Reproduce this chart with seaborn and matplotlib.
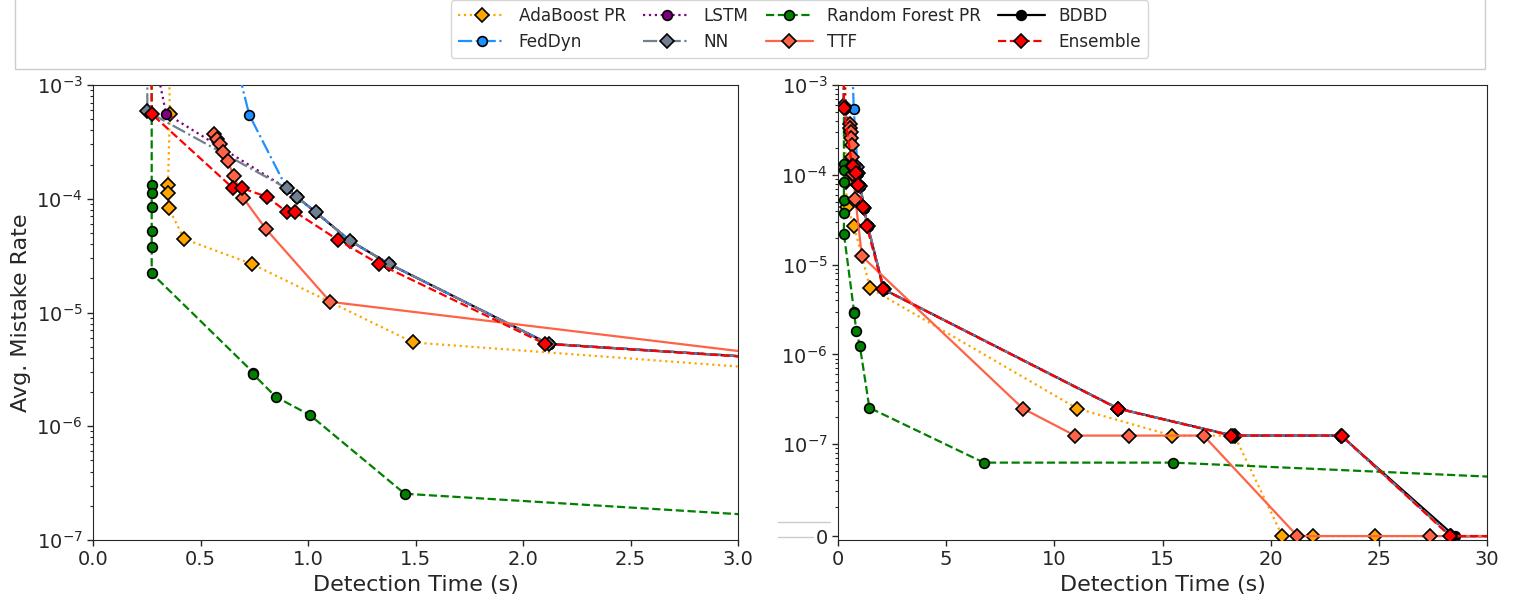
import numpy as np
import pandas as pd
import matplotlib
matplotlib.use("Agg")
import matplotlib.pyplot as plt
import seaborn as sns
from matplotlib.ticker import FixedLocator, LogFormatterSciNotation, NullFormatter
from matplotlib.patches import Rectangle
from matplotlib.lines import Line2D

# ---------------- data ----------------
ada_x = [0.35, 0.357, 0.349, 0.349, 0.352, 0.424, 0.739, 1.49, 11.06, 15.44, 18.33, 20.54, 21.94, 24.8, 35.0]
ada_y = [1e-2, 5.6e-4, 1.32e-4, 1.13e-4, 8.3e-5, 4.43e-5, 2.67e-5, 5.45e-6, 2.5e-7, 1.25e-7, 1.25e-7, 0, 0, 0, 0]

feddyn_x = [0.60, 0.727, 0.901, 0.947, 1.037, 1.195, 1.377, 2.12, 12.95, 18.25, 23.25, 28.35, 35.0]
feddyn_y = [5e-3, 5.45e-4, 1.236e-4, 1.04e-4, 7.6e-5, 4.28e-5, 2.67e-5, 5.3e-6, 2.5e-7, 1.25e-7, 1.25e-7, 0, 0]

lstm_x = [0.28, 0.34, 0.901, 0.947, 1.037, 1.195, 1.377, 2.12, 12.95, 18.25, 23.25, 28.35, 35.0]
lstm_y = [2e-3, 5.6e-4, 1.236e-4, 1.04e-4, 7.6e-5, 4.28e-5, 2.67e-5, 5.3e-6, 2.5e-7, 1.25e-7, 1.25e-7, 0, 0]

nn_x = [0.25, 0.253, 0.901, 0.947, 1.037, 1.195, 1.377, 2.12, 12.95, 18.25, 23.25, 28.35, 35.0]
nn_y = [1e-2, 5.85e-4, 1.236e-4, 1.04e-4, 7.6e-5, 4.28e-5, 2.67e-5, 5.3e-6, 2.5e-7, 1.25e-7, 1.25e-7, 0, 0]

rf_x = [0.273, 0.273, 0.273, 0.273, 0.273, 0.273, 0.273, 0.746, 0.746, 0.849, 1.01, 1.45, 6.74, 15.5, 92.0]
rf_y = [1e-2, 1.32e-4, 1.13e-4, 8.4e-5, 5.24e-5, 3.79e-5, 2.21e-5, 2.96e-6, 2.86e-6, 1.82e-6, 1.25e-6, 2.55e-7, 6.25e-8, 6.25e-8, 0]

ttf_x = [0.563, 0.577, 0.591, 0.605, 0.626, 0.656, 0.698, 0.805, 1.104, 8.55, 10.95, 13.45, 16.9, 21.24, 27.37, 35.0]
ttf_y = [3.7e-4, 3.35e-4, 3.03e-4, 2.58e-4, 2.15e-4, 1.57e-4, 1.02e-4, 5.4e-5, 1.24e-5, 2.5e-7, 1.25e-7, 1.25e-7, 1.25e-7, 0, 0, 0]

bdbd_x = [0.901, 0.947, 1.037, 1.195, 1.377, 2.12, 12.95, 18.25, 23.25, 28.5, 35.0]
bdbd_y = [1.236e-4, 1.04e-4, 7.6e-5, 4.28e-5, 2.67e-5, 5.3e-6, 2.5e-7, 1.25e-7, 1.25e-7, 0, 0]

ens_x = [0.27, 0.273, 0.651, 0.693, 0.809, 0.902, 0.940, 1.140, 1.330, 2.102, 12.92, 18.17, 23.28, 28.29, 35.0]
ens_y = [1e-2, 5.55e-4, 1.24e-4, 1.24e-4, 1.04e-4, 7.65e-5, 7.65e-5, 4.34e-5, 2.67e-5, 5.3e-6, 2.5e-7, 1.25e-7, 1.25e-7, 0, 0]

labels = ["AdaBoost PR", "FedDyn", "LSTM", "NN", "Random Forest PR", "TTF", "BDBD", "Ensemble"]
left_xticks = [0.0, 0.5, 1.0, 1.5, 2.0, 2.5, 3.0]
right_xticks = [0, 5, 10, 15, 20, 25, 30]
right_yticks = [0, 1e-7, 1e-6, 1e-5, 1e-4, 1e-3]

series = [
    # label, x, y, color, linestyle, marker, zorder
    ("AdaBoost PR", ada_x, ada_y, "orange", ":", "D", 3),
    ("FedDyn", feddyn_x, feddyn_y, "dodgerblue", "-.", "o", 4),
    ("LSTM", lstm_x, lstm_y, "purple", ":", "o", 5),
    ("NN", nn_x, nn_y, "slategray", "-.", "D", 6),
    ("Random Forest PR", rf_x, rf_y, "green", "--", "o", 7),
    ("TTF", ttf_x, ttf_y, "tomato", "-", "D", 8),
    ("BDBD", bdbd_x, bdbd_y, "black", "-", "o", 2.5),
    ("Ensemble", ens_x, ens_y, "red", "--", "D", 9),
]

# ---------------- style ----------------
sns.set_style("ticks")
plt.rcParams["font.family"] = ["DejaVu Sans"]

fig = plt.figure(figsize=(15.2, 6.06), dpi=100)
ax1 = fig.add_axes([93 / 1520, 66 / 606, 645 / 1520, 455 / 606])
ax2 = fig.add_axes([838 / 1520, 66 / 606, 649 / 1520, 455 / 606])

ax1.set_yscale("log", nonpositive="mask")
ax2.set_yscale("symlog", linthresh=1e-8, linscale=0.02)

for ax in (ax1, ax2):
    for lab, xs, ys, col, ls, mk, z in series:
        df = pd.DataFrame({"x": xs, "y": ys})
        ms = 7.6 if mk == "D" else 7.0
        sns.lineplot(data=df, x="x", y="y", ax=ax, estimator=None, sort=False,
                     color=col, linestyle=ls, marker=mk, markersize=ms,
                     markeredgecolor="black", markeredgewidth=1.2,
                     linewidth=1.6, label=lab, zorder=z, legend=False)
    if ax.get_legend() is not None:
        ax.get_legend().remove()
    ax.set_xlabel("Detection Time (s)", fontsize=16)
    ax.tick_params(axis="both", which="major", labelsize=14, length=4, width=1, direction="out")
    ax.tick_params(axis="both", which="minor", length=2, width=0.8, direction="out")
    ax.tick_params(axis="x", which="minor", bottom=False)

ax1.set_xlim(0, 3)
ax1.set_ylim(1e-7, 1e-3)
ax1.set_xticks(left_xticks)
ax1.set_xticklabels([f"{v:.1f}" for v in left_xticks])
ax1.set_ylabel("Avg. Mistake Rate", fontsize=16)

ax2.set_xlim(0, 30)
ax2.set_ylim(-1.05e-8, 1e-3)
ax2.set_xticks(right_xticks)
ax2.yaxis.set_major_locator(FixedLocator(right_yticks))
ax2.yaxis.set_major_formatter(LogFormatterSciNotation(base=10))
minor = [k * 10.0 ** e for e in range(-8, -3) for k in range(2, 10)]
ax2.yaxis.set_minor_locator(FixedLocator(minor))
ax2.yaxis.set_minor_formatter(NullFormatter())
ax2.set_ylabel("")

# ---------------- legend ----------------
h, l = ax1.get_legend_handles_labels()
order = [l.index(n) for n in labels]
fig.legend([h[i] for i in order], [l[i] for i in order], loc="upper center",
           bbox_to_anchor=(0.526, 1.006), ncol=4, fontsize=12.2, handlelength=2.8,
           columnspacing=1.0, handletextpad=0.8, borderaxespad=0.2, frameon=True)

# outer light frame around the legend band
fig.add_artist(Rectangle((15 / 1520, (606 - 69) / 606), 1470 / 1520, 0.3,
                         transform=fig.transFigure, fill=False,
                         edgecolor="#cccccc", linewidth=1.0))
# small grey marks left of the "0" label
fig.add_artist(Line2D([778 / 1520, 830 / 1520], [(606 - 522) / 606] * 2,
                      transform=fig.transFigure, color="#cccccc", linewidth=1.0))
fig.add_artist(Line2D([778 / 1520, 813 / 1520], [(606 - 537) / 606] * 2,
                      transform=fig.transFigure, color="#cccccc", linewidth=1.0))

fig.savefig("out.png", dpi=100)
